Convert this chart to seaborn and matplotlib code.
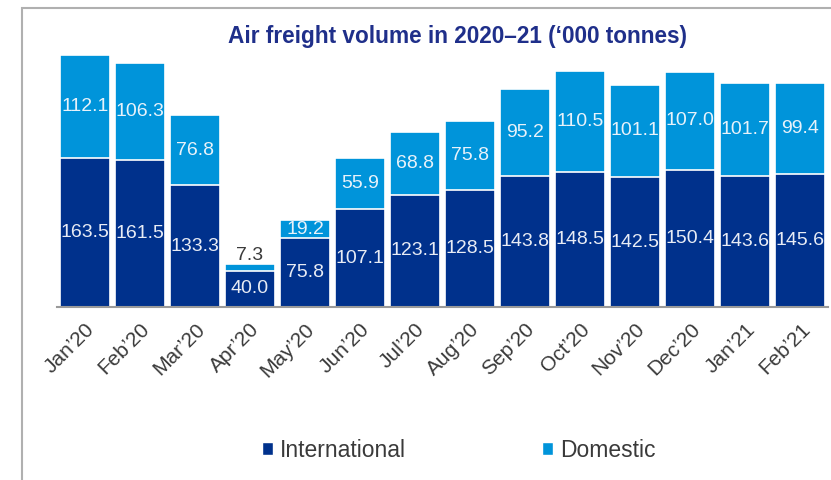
import matplotlib
matplotlib.use("Agg")
import matplotlib.pyplot as plt
import seaborn as sns
import pandas as pd
from matplotlib.patches import Rectangle, Patch

months = ["Jan’20", "Feb’20", "Mar’20", "Apr’20", "May’20", "Jun’20", "Jul’20",
          "Aug’20", "Sep’20", "Oct’20", "Nov’20", "Dec’20", "Jan’21", "Feb’21"]
international = [163.5, 161.5, 133.3, 40.0, 75.8, 107.1, 123.1,
                 128.5, 143.8, 148.5, 142.5, 150.4, 143.6, 145.6]
domestic = [112.1, 106.3, 76.8, 7.3, 19.2, 55.9, 68.8,
            75.8, 95.2, 110.5, 101.1, 107.0, 101.7, 99.4]

intl_color = "#00318C"
dom_color = "#0094DA"

df = pd.DataFrame({"month": months, "International": international, "Domestic": domestic})
df["Total"] = df["International"] + df["Domestic"]

sns.set_style("white")
plt.rcParams["font.family"] = ["Liberation Sans", "DejaVu Sans"]

fig = plt.figure(figsize=(8.31, 4.8), dpi=100)
ax = fig.add_axes([0.069, 0.360, 0.927, 0.571])

sns.barplot(data=df, x="month", y="Total", color=dom_color, width=0.9,
            edgecolor="white", linewidth=1.2, saturation=1, ax=ax)
sns.barplot(data=df, x="month", y="International", color=intl_color, width=0.9,
            edgecolor="white", linewidth=1.2, saturation=1, ax=ax)

ax.set_ylim(0, 300)
ax.set_xlim(-0.5, len(months) - 0.5)
ax.set_xlabel("")
ax.set_ylabel("")
ax.set_yticks([])
for s in ["top", "right", "left"]:
    ax.spines[s].set_visible(False)
ax.spines["bottom"].set_color("#9a9a9a")
ax.spines["bottom"].set_linewidth(1.5)

for i, (iv, dv) in enumerate(zip(international, domestic)):
    ax.text(i, iv / 2, f"{iv:.1f}", ha="center", va="center",
            color="#e8ecf5", fontsize=14)
    if dv < 10:
        ax.text(i, iv + dv + 0.5, f"{dv:.1f}", ha="center", va="bottom",
                color="#3a3a3a", fontsize=14)
    else:
        ax.text(i, iv + dv / 2, f"{dv:.1f}", ha="center", va="center",
                color="#e8f2fa", fontsize=14)

ax.tick_params(axis="x", length=0, pad=9)
plt.setp(ax.get_xticklabels(), rotation=45, ha="right", rotation_mode="anchor",
         fontsize=15, color="#3a3a3a")

fig.text(0.55, 0.925, "Air freight volume in 2020–21 (‘000 tonnes)", ha="center",
         va="center", fontsize=16.3, fontweight="bold", color="#1f2f8a")

handles = [Patch(facecolor=intl_color, label="International"),
           Patch(facecolor=dom_color, label="Domestic")]
fig.legend(handles=handles, loc="center", bbox_to_anchor=(0.552, 0.062), ncol=2,
           frameon=False, fontsize=16.5, handlelength=0.5, handleheight=0.5,
           handletextpad=0.3, columnspacing=5.9, labelcolor="#3a3a3a")

fig.add_artist(Rectangle((22 / 831, -0.1), 1.0, 1 - 8 / 480 + 0.1,
                         transform=fig.transFigure, fill=False,
                         edgecolor="#b0b0b0", linewidth=1.5))

fig.savefig("out.png", dpi=100)
